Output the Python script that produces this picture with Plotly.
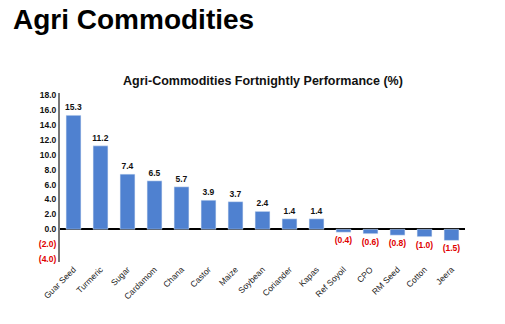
import plotly.graph_objects as go

categories = ["Guar Seed", "Turmeric", "Sugar", "Cardamom", "Chana", "Castor", "Maize",
              "Soybean", "Coriander", "Kapas", "Ref Soyoil", "CPO", "RM Seed", "Cotton", "Jeera"]
values = [15.3, 11.2, 7.4, 6.5, 5.7, 3.9, 3.7, 2.4, 1.4, 1.4, -0.4, -0.6, -0.8, -1.0, -1.5]
tick_vals = [-4, -2, 0, 2, 4, 6, 8, 10, 12, 14, 16, 18]

def fmt(v):
    return f"({abs(v):.1f})" if v < 0 else f"{v:.1f}"

tick_text = [f"<span style='color:#e00000'><b>{fmt(v)}</b></span>" if v < 0 else f"<b>{fmt(v)}</b>"
             for v in tick_vals]
bar_text = [f"<b>{fmt(v)}</b>" if v >= 0 else f"<br><b>{fmt(v)}</b>" for v in values]
text_colors = ["#e00000" if v < 0 else "#111111" for v in values]

fig = go.Figure(go.Bar(
    x=categories, y=values, marker_color="#4F81D0", width=0.55,
    text=bar_text, textposition="outside", cliponaxis=False, constraintext="none",
    textfont=dict(size=8.5, color=text_colors, family="Liberation Sans"),
))

fig.update_layout(
    width=505, height=324, plot_bgcolor="white", paper_bgcolor="white",
    margin=dict(l=60, r=40, t=93, b=62),
    showlegend=False, bargap=0.45,
    annotations=[
        dict(text="<b>Agri Commodities</b>", xref="paper", yref="paper", x=-0.12, y=1.0,
             xanchor="left", yanchor="bottom", yshift=56, showarrow=False,
             font=dict(family="Liberation Sans, Arial", size=28, color="#000")),
        dict(text="<b>Agri-Commodities Fortnightly Performance (%)</b>", xref="paper", yref="paper",
             x=0.5, y=1.0, xanchor="center", yanchor="bottom", yshift=3, showarrow=False,
             font=dict(family="Liberation Sans", size=12.5, color="#111")),
    ],
)
fig.update_yaxes(range=[-4.4, 18.3], tickvals=tick_vals, ticktext=tick_text,
                 showgrid=False, showline=True, linecolor="#777777", linewidth=2,
                 zeroline=True, zerolinecolor="#000", zerolinewidth=1.5,
                 tickfont=dict(size=8.5, family="Liberation Sans", color="#111"), ticks="")
fig.update_xaxes(tickangle=-45, showgrid=False, showline=False, ticks="",
                 tickfont=dict(size=8.5, family="Liberation Sans", color="#222"))

fig.write_html("out.html")
